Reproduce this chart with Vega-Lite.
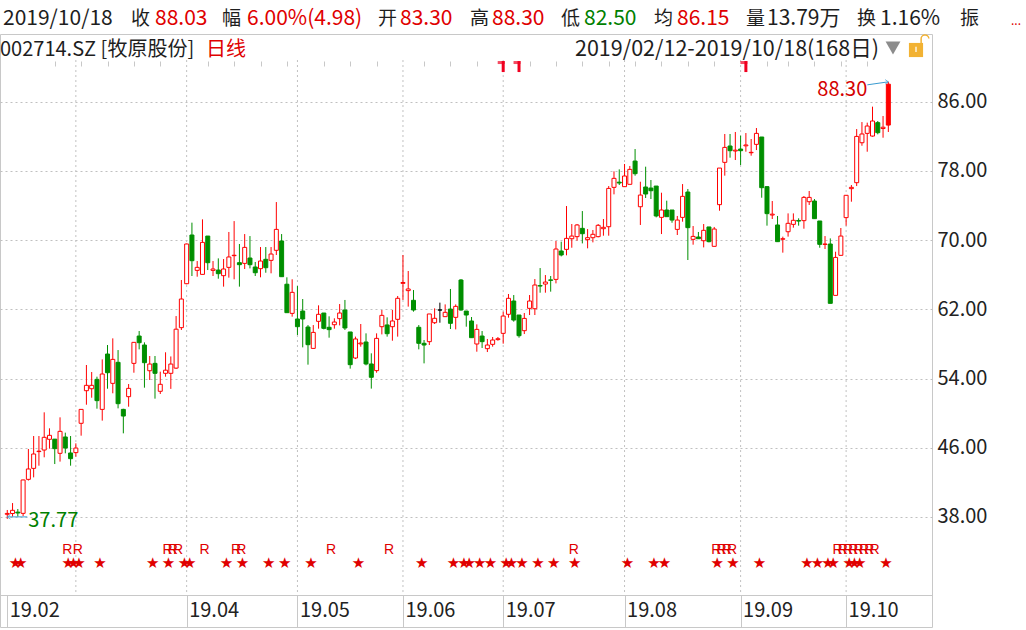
{
"$schema": "https://vega.github.io/schema/vega-lite/v6.json",
"width": 932, "height": 593,
"autosize": {"type": "none"},
"padding": {"left": 0, "top": 34, "right": 94, "bottom": 3},
"background": "#ffffff",
"config": {"view": {"stroke": "#c8c8c8", "strokeWidth": 1}, "font": "Noto Sans CJK SC", "axis": {"labelFont": "Noto Sans CJK SC"}},
"data": {"values": [{}]},
"datasets": {
"k": [
{"i":0,"o":38.3,"h":38.8,"l":37.77,"c":38.4},
{"i":1,"o":38.39,"h":39.6,"l":38.03,"c":38.76},
{"i":2,"o":38.55,"h":38.91,"l":38.03,"c":38.45},
{"i":3,"o":38.41,"h":42.3,"l":38.1,"c":42.27},
{"i":4,"o":42.34,"h":45.85,"l":42.2,"c":43.54},
{"i":5,"o":43.61,"h":47.35,"l":42.57,"c":45.27},
{"i":6,"o":45.55,"h":47.35,"l":43.92,"c":45.6},
{"i":7,"o":45.73,"h":50.09,"l":44.89,"c":47.2},
{"i":8,"o":46.97,"h":48.24,"l":45.89,"c":47.43},
{"i":9,"o":46.99,"h":47.0,"l":44.11,"c":45.89},
{"i":10,"o":45.35,"h":49.51,"l":44.39,"c":47.89},
{"i":11,"o":47.24,"h":47.74,"l":45.35,"c":45.96},
{"i":12,"o":45.39,"h":47.35,"l":43.92,"c":44.73},
{"i":13,"o":45.43,"h":46.5,"l":44.96,"c":45.96},
{"i":14,"o":48.82,"h":50.43,"l":47.39,"c":50.43},
{"i":15,"o":52.59,"h":55.56,"l":50.97,"c":53.21},
{"i":16,"o":52.82,"h":54.75,"l":51.78,"c":53.21},
{"i":17,"o":53.9,"h":54.21,"l":50.51,"c":51.44},
{"i":18,"o":50.43,"h":56.21,"l":49.13,"c":54.52},
{"i":19,"o":56.83,"h":57.87,"l":52.82,"c":54.67},
{"i":20,"o":53.44,"h":58.64,"l":52.29,"c":56.21},
{"i":21,"o":55.87,"h":57.29,"l":50.55,"c":51.09},
{"i":22,"o":50.43,"h":50.5,"l":47.66,"c":49.66},
{"i":23,"o":51.9,"h":53.36,"l":50.74,"c":52.86},
{"i":24,"o":55.75,"h":58.18,"l":54.67,"c":58.18},
{"i":25,"o":58.91,"h":59.49,"l":57.37,"c":58.14},
{"i":26,"o":57.87,"h":58.18,"l":52.94,"c":55.83},
{"i":27,"o":54.9,"h":56.6,"l":53.83,"c":55.67},
{"i":28,"o":55.75,"h":56.6,"l":51.67,"c":54.6},
{"i":29,"o":52.52,"h":54.79,"l":52.21,"c":53.33},
{"i":30,"o":54.6,"h":57.03,"l":54.21,"c":54.96},
{"i":31,"o":54.6,"h":56.55,"l":52.8,"c":55.67},
{"i":32,"o":55.2,"h":61.22,"l":55.1,"c":59.7},
{"i":33,"o":59.88,"h":65.39,"l":59.61,"c":63.19},
{"i":34,"o":64.96,"h":69.6,"l":64.9,"c":69.55},
{"i":35,"o":70.59,"h":72.02,"l":65.85,"c":67.62},
{"i":36,"o":66.5,"h":67.58,"l":65.77,"c":66.85},
{"i":37,"o":66.04,"h":72.4,"l":66.04,"c":69.74},
{"i":38,"o":70.47,"h":70.47,"l":66.54,"c":67.39},
{"i":39,"o":66.5,"h":67.58,"l":65.85,"c":66.66},
{"i":40,"o":66.54,"h":67.89,"l":65.54,"c":66.12},
{"i":41,"o":65.89,"h":67.81,"l":64.62,"c":66.66},
{"i":42,"o":66.85,"h":70.94,"l":65.66,"c":68.05},
{"i":43,"o":68.2,"h":72.2,"l":65.47,"c":68.25},
{"i":44,"o":67.39,"h":69.55,"l":64.62,"c":67.16},
{"i":45,"o":67.31,"h":70.7,"l":66.66,"c":69.16},
{"i":46,"o":67.93,"h":70.47,"l":66.73,"c":67.16},
{"i":47,"o":66.89,"h":67.47,"l":65.85,"c":66.23},
{"i":48,"o":66.7,"h":69.2,"l":65.7,"c":67.58},
{"i":49,"o":67.78,"h":69.2,"l":66.23,"c":66.81},
{"i":50,"o":67.66,"h":69.2,"l":66.16,"c":68.39},
{"i":51,"o":68.82,"h":74.4,"l":68.28,"c":71.24},
{"i":52,"o":69.9,"h":70.7,"l":65.77,"c":65.77},
{"i":53,"o":64.9,"h":65.7,"l":61.61,"c":61.61},
{"i":54,"o":61.53,"h":65.47,"l":61.15,"c":63.96},
{"i":55,"o":60.88,"h":64.69,"l":59.03,"c":59.99},
{"i":56,"o":61.8,"h":63.19,"l":57.6,"c":60.88},
{"i":57,"o":59.95,"h":60.18,"l":55.6,"c":57.91},
{"i":58,"o":57.48,"h":60.18,"l":57.48,"c":59.33},
{"i":59,"o":60.61,"h":62.46,"l":59.76,"c":61.42},
{"i":60,"o":61.57,"h":61.57,"l":59.68,"c":59.8},
{"i":61,"o":59.92,"h":61.19,"l":58.72,"c":59.65},
{"i":62,"o":60.22,"h":60.96,"l":59.76,"c":60.53},
{"i":63,"o":60.92,"h":62.61,"l":60.14,"c":61.57},
{"i":64,"o":61.92,"h":63.08,"l":59.61,"c":59.84},
{"i":65,"o":59.38,"h":59.38,"l":55.14,"c":55.6},
{"i":66,"o":56.37,"h":58.84,"l":56.25,"c":58.57},
{"i":67,"o":58.0,"h":60.3,"l":57.68,"c":58.1},
{"i":68,"o":58.22,"h":59.22,"l":55.52,"c":55.68},
{"i":69,"o":55.68,"h":56.91,"l":52.83,"c":54.14},
{"i":70,"o":54.91,"h":59.22,"l":54.67,"c":58.64},
{"i":71,"o":59.99,"h":61.92,"l":59.1,"c":61.3},
{"i":72,"o":60.19,"h":61.07,"l":58.84,"c":59.18},
{"i":73,"o":59.99,"h":61.92,"l":58.37,"c":60.65},
{"i":74,"o":60.84,"h":63.54,"l":58.84,"c":63.27},
{"i":75,"o":65.0,"h":68.28,"l":63.08,"c":65.1},
{"i":76,"o":64.16,"h":66.43,"l":62.31,"c":64.35},
{"i":77,"o":63.04,"h":64.23,"l":61.73,"c":61.92},
{"i":78,"o":59.92,"h":60.18,"l":57.37,"c":58.07},
{"i":79,"o":58.07,"h":58.45,"l":55.75,"c":57.87},
{"i":80,"o":58.26,"h":61.46,"l":57.87,"c":61.46},
{"i":81,"o":60.45,"h":62.11,"l":60.3,"c":60.96},
{"i":82,"o":61.92,"h":62.77,"l":60.45,"c":61.92},
{"i":83,"o":61.15,"h":62.57,"l":61.15,"c":61.65},
{"i":84,"o":62.03,"h":64.35,"l":59.72,"c":60.38},
{"i":85,"o":61.07,"h":62.57,"l":59.68,"c":62.34},
{"i":86,"o":65.39,"h":65.5,"l":61.84,"c":61.92},
{"i":87,"o":61.8,"h":61.8,"l":59.99,"c":61.34},
{"i":88,"o":60.65,"h":61.11,"l":58.72,"c":58.72},
{"i":89,"o":57.99,"h":60.26,"l":57.1,"c":59.68},
{"i":90,"o":58.91,"h":59.49,"l":57.53,"c":58.26},
{"i":91,"o":57.45,"h":58.57,"l":57.06,"c":57.87},
{"i":92,"o":57.95,"h":58.8,"l":57.68,"c":58.45},
{"i":93,"o":58.5,"h":58.8,"l":58.37,"c":58.6},
{"i":94,"o":59.22,"h":61.72,"l":58.03,"c":61.22},
{"i":95,"o":61.42,"h":63.77,"l":61.03,"c":63.27},
{"i":96,"o":62.96,"h":63.65,"l":60.57,"c":60.76},
{"i":97,"o":61.34,"h":61.34,"l":58.72,"c":58.95},
{"i":98,"o":59.53,"h":61.57,"l":59.14,"c":60.95},
{"i":99,"o":62.11,"h":63.65,"l":61.34,"c":62.96},
{"i":100,"o":62.07,"h":65.5,"l":61.34,"c":64.81},
{"i":101,"o":64.74,"h":66.77,"l":63.92,"c":64.69},
{"i":102,"o":64.92,"h":65.96,"l":63.92,"c":65.15},
{"i":103,"o":65.4,"h":65.85,"l":64.04,"c":65.35},
{"i":104,"o":65.46,"h":69.9,"l":65.0,"c":68.97},
{"i":105,"o":68.74,"h":69.82,"l":68.12,"c":68.28},
{"i":106,"o":68.93,"h":73.94,"l":68.24,"c":70.2},
{"i":107,"o":70.16,"h":71.86,"l":69.12,"c":70.47},
{"i":108,"o":70.4,"h":71.86,"l":69.93,"c":71.75},
{"i":109,"o":71.36,"h":73.36,"l":69.62,"c":70.74},
{"i":110,"o":70.05,"h":71.28,"l":69.05,"c":70.28},
{"i":111,"o":70.28,"h":71.17,"l":69.74,"c":70.67},
{"i":112,"o":70.4,"h":71.86,"l":70.32,"c":71.71},
{"i":113,"o":71.32,"h":72.44,"l":70.51,"c":71.48},
{"i":114,"o":71.55,"h":76.25,"l":70.51,"c":75.98},
{"i":115,"o":76.1,"h":77.95,"l":75.29,"c":77.14},
{"i":116,"o":76.7,"h":78.18,"l":76.37,"c":76.6},
{"i":117,"o":76.18,"h":78.8,"l":76.18,"c":77.41},
{"i":118,"o":76.45,"h":78.57,"l":76.45,"c":78.18},
{"i":119,"o":79.14,"h":80.53,"l":77.45,"c":77.68},
{"i":120,"o":73.86,"h":76.75,"l":71.75,"c":75.21},
{"i":121,"o":76.14,"h":78.49,"l":74.87,"c":75.33},
{"i":122,"o":76.02,"h":76.95,"l":74.75,"c":75.71},
{"i":123,"o":76.25,"h":76.25,"l":72.63,"c":72.79},
{"i":124,"o":72.63,"h":75.48,"l":70.7,"c":73.48},
{"i":125,"o":73.48,"h":74.56,"l":72.71,"c":72.71},
{"i":126,"o":73.48,"h":73.48,"l":72.01,"c":72.32},
{"i":127,"o":71.24,"h":72.79,"l":70.59,"c":72.32},
{"i":128,"o":72.63,"h":76.48,"l":72.13,"c":75.06},
{"i":129,"o":75.56,"h":75.91,"l":67.7,"c":71.44},
{"i":130,"o":70.09,"h":71.63,"l":69.47,"c":70.43},
{"i":131,"o":70.36,"h":70.94,"l":70.16,"c":70.16},
{"i":132,"o":69.93,"h":71.86,"l":69.16,"c":71.13},
{"i":133,"o":71.52,"h":71.52,"l":69.74,"c":69.82},
{"i":134,"o":69.28,"h":71.52,"l":69.28,"c":71.28},
{"i":135,"o":74.1,"h":78.33,"l":73.4,"c":78.33},
{"i":136,"o":78.99,"h":82.27,"l":77.45,"c":80.72},
{"i":137,"o":80.88,"h":82.27,"l":79.53,"c":80.34},
{"i":138,"o":80.3,"h":82.5,"l":79.26,"c":80.4},
{"i":139,"o":80.53,"h":82.07,"l":78.68,"c":80.34},
{"i":140,"o":80.9,"h":82.38,"l":80.22,"c":81.0},
{"i":141,"o":80.1,"h":81.69,"l":79.76,"c":80.15},
{"i":142,"o":81.07,"h":82.96,"l":80.41,"c":82.34},
{"i":143,"o":81.92,"h":81.92,"l":74.9,"c":76.06},
{"i":144,"o":76.18,"h":76.25,"l":71.67,"c":73.06},
{"i":145,"o":72.9,"h":74.52,"l":72.44,"c":73.0},
{"i":146,"o":71.75,"h":72.79,"l":69.82,"c":69.82},
{"i":147,"o":70.1,"h":70.4,"l":68.55,"c":70.16},
{"i":148,"o":70.97,"h":73.09,"l":70.4,"c":71.94},
{"i":149,"o":71.82,"h":73.09,"l":71.44,"c":72.29},
{"i":150,"o":72.27,"h":72.52,"l":71.67,"c":72.2},
{"i":151,"o":72.25,"h":75.1,"l":71.32,"c":74.94},
{"i":152,"o":74.44,"h":75.68,"l":74.06,"c":74.94},
{"i":153,"o":74.52,"h":74.75,"l":72.48,"c":72.48},
{"i":154,"o":72.21,"h":72.21,"l":69.12,"c":69.51},
{"i":155,"o":69.5,"h":70.47,"l":68.97,"c":69.55},
{"i":156,"o":69.55,"h":70.2,"l":62.69,"c":62.69},
{"i":157,"o":63.61,"h":68.66,"l":63.61,"c":68.0},
{"i":158,"o":68.24,"h":71.4,"l":68.24,"c":70.47},
{"i":159,"o":72.6,"h":75.18,"l":71.67,"c":75.18},
{"i":160,"o":75.95,"h":76.37,"l":74.44,"c":76.1},
{"i":161,"o":76.64,"h":82.84,"l":76.25,"c":81.99},
{"i":162,"o":81.26,"h":83.65,"l":80.91,"c":82.27},
{"i":163,"o":82.34,"h":83.58,"l":80.22,"c":83.19},
{"i":164,"o":82.03,"h":85.43,"l":81.96,"c":83.77},
{"i":165,"o":83.58,"h":83.77,"l":82.23,"c":82.42},
{"i":166,"o":82.9,"h":84.35,"l":81.84,"c":83.05},
{"i":167,"o":83.3,"h":88.3,"l":82.5,"c":88.03}
],
"grid": [{"i":13},{"i":34},{"i":55},{"i":75},{"i":94},{"i":117},{"i":139},{"i":159}],
"stars": [{"i":1},{"i":2},{"i":11},{"i":12},{"i":13},{"i":17},{"i":27},{"i":30},{"i":33},{"i":34},{"i":41},{"i":44},{"i":49},{"i":52},{"i":57},{"i":66},{"i":78},{"i":84},{"i":86},{"i":87},{"i":89},{"i":91},{"i":94},{"i":95},{"i":97},{"i":100},{"i":103},{"i":107},{"i":117},{"i":122},{"i":124},{"i":134},{"i":137},{"i":142},{"i":151},{"i":153},{"i":155},{"i":156},{"i":159},{"i":160},{"i":161},{"i":166}],
"rs": [{"i":11},{"i":13},{"i":30},{"i":31},{"i":32},{"i":37},{"i":43},{"i":44},{"i":61},{"i":72},{"i":107},{"i":134},{"i":135},{"i":136},{"i":137},{"i":157},{"i":158},{"i":159},{"i":160},{"i":161},{"i":162},{"i":163},{"i":164}],
"flags": [{"i":94},{"i":97},{"i":140}],
"hi": [{"i":167,"p":88.3,"t":"88.30"}],
"lo": [{"i":0,"p":37.77,"t":"37.77"}]
},
"layer": [
{"data": {"name": "grid"},
 "mark": {"type": "rule", "color": "#c0c0c0", "strokeDash": [2, 3], "strokeWidth": 1},
 "encoding": {
  "x": {"field": "i", "type": "quantitative", "scale": {"domain": [-0.431, 174.33], "nice": false, "zero": false},
   "axis": {"values": [0, 34, 55, 75, 94, 117, 139, 159], "tickSize": 32, "tickColor": "#c8c8c8", "domainColor": "#c8c8c8", "offset": -32, "grid": false, "title": null,
    "labelExpr": "datum.value == 0 ? '19.02' : datum.value == 34 ? '19.04' : datum.value == 55 ? '19.05' : datum.value == 75 ? '19.06' : datum.value == 94 ? '19.07' : datum.value == 117 ? '19.08' : datum.value == 139 ? '19.09' : '19.10'",
    "labelAlign": "left", "labelBaseline": "top", "labelOffset": 2, "labelPadding": -27, "labelFontSize": 20, "labelColor": "#222222", "labelFlush": false, "labelOverlap": false, "labelBound": false}},
  "y": {"datum": 90.82, "type": "quantitative", "scale": {"domain": [25.27, 93.83], "nice": false, "zero": false}, "axis": null},
  "y2": {"datum": 28.97}
 }},
{"data": {"name": "k"},
 "mark": {"type": "rule", "strokeWidth": 1},
 "encoding": {
  "x": {"field": "i", "type": "quantitative", "axis": null},
  "y": {"field": "l", "type": "quantitative",
   "axis": {"orient": "right", "values": [38, 46, 54, 62, 70, 78, 86], "format": ".2f", "grid": true, "gridDash": [2, 3], "gridColor": "#c0c0c0", "ticks": false, "domain": false, "labelPadding": 5, "labelFontSize": 20, "labelColor": "#222222", "title": null}},
  "y2": {"field": "h"},
  "color": {"condition": [{"test": "datum.c > datum.o", "value": "#ff0000"}, {"test": "datum.c < datum.o", "value": "#008f00"}], "value": "#000000"}
 }},
{"data": {"name": "k"},
 "mark": {"type": "bar", "width": 4, "strokeWidth": 1},
 "encoding": {
  "x": {"field": "i", "type": "quantitative", "axis": null},
  "y": {"field": "o", "type": "quantitative", "axis": null},
  "y2": {"field": "c"},
  "fill": {"condition": [{"test": "datum.i == 167", "value": "#ff0000"}, {"test": "datum.c > datum.o", "value": "#ffffff"}, {"test": "datum.c < datum.o", "value": "#008f00"}], "value": "#000000"},
  "stroke": {"condition": [{"test": "datum.c > datum.o", "value": "#ff0000"}, {"test": "datum.c < datum.o", "value": "#008f00"}], "value": "#000000"}
 }},
{"data": {"name": "stars"},
 "mark": {"type": "text", "text": "★", "color": "#e00000", "fontSize": 15, "font": "DejaVu Sans", "dx": 3, "baseline": "middle"},
 "encoding": {
  "x": {"field": "i", "type": "quantitative",
   "axis": {"values": [9, 14, 19, 24, 29, 38, 43, 48, 53, 60, 65, 70, 79, 84, 89, 99, 104, 109, 114, 119, 124, 129, 134, 144, 148, 153, 158, 163], "tickSize": 5, "tickColor": "#c8c8c8", "labels": false, "domain": false, "offset": -32, "grid": false, "title": null}},
  "y": {"datum": 32.67, "type": "quantitative", "axis": null}
 }},
{"data": {"name": "rs"},
 "mark": {"type": "text", "text": "R", "color": "#e00000", "fontSize": 14, "font": "Liberation Sans", "dx": 2, "baseline": "middle"},
 "encoding": {
  "x": {"field": "i", "type": "quantitative", "axis": null},
  "y": {"datum": 34.17, "type": "quantitative", "axis": null}
 }},
{"data": {"name": "flags"},
 "mark": {"type": "rule", "color": "#f00020", "strokeWidth": 3},
 "encoding": {
  "x": {"field": "i", "type": "quantitative", "axis": null},
  "y": {"datum": 90.7, "type": "quantitative", "axis": null},
  "y2": {"datum": 89.43}
 }},
{"data": {"name": "flags"},
 "mark": {"type": "tick", "orient": "horizontal", "color": "#f00020", "size": 7, "thickness": 3, "xOffset": -2},
 "encoding": {
  "x": {"field": "i", "type": "quantitative", "axis": null},
  "y": {"datum": 90.53, "type": "quantitative", "axis": null}
 }},
{"data": {"name": "hi"},
 "mark": {"type": "rule", "color": "#3a9bd0", "strokeWidth": 1, "xOffset": -21, "yOffset": 3},
 "encoding": {
  "x": {"field": "i", "type": "quantitative", "axis": null},
  "x2": {"field": "i"},
  "y": {"field": "p", "type": "quantitative", "axis": null},
  "y2": {"field": "p"}
 }},
{"data": {"name": "hi"},
 "mark": {"type": "point", "shape": "M-1,-0.7L0,0L-1,0.7", "filled": false, "color": "#3a9bd0", "size": 40, "strokeWidth": 1},
 "encoding": {
  "x": {"field": "i", "type": "quantitative", "axis": null},
  "y": {"field": "p", "type": "quantitative", "axis": null}
 }},
{"data": {"name": "hi"},
 "mark": {"type": "text", "color": "#d40000", "fontSize": 20, "align": "right", "baseline": "middle", "dx": -21, "dy": 8},
 "encoding": {
  "x": {"field": "i", "type": "quantitative", "axis": null},
  "y": {"field": "p", "type": "quantitative", "axis": null},
  "text": {"field": "t"}
 }},
{"data": {"name": "lo"},
 "mark": {"type": "rule", "color": "#3a9bd0", "strokeWidth": 1, "x2Offset": 20, "yOffset": -2, "y2Offset": -2},
 "encoding": {
  "x": {"field": "i", "type": "quantitative", "axis": null},
  "x2": {"field": "i"},
  "y": {"field": "p", "type": "quantitative", "axis": null},
  "y2": {"field": "p"}
 }},
{"data": {"name": "lo"},
 "mark": {"type": "point", "shape": "M1,-0.7L0,0L1,0.7", "filled": false, "color": "#3a9bd0", "size": 40, "strokeWidth": 1, "yOffset": -2},
 "encoding": {
  "x": {"field": "i", "type": "quantitative", "axis": null},
  "y": {"field": "p", "type": "quantitative", "axis": null}
 }},
{"data": {"name": "lo"},
 "mark": {"type": "text", "color": "#008000", "fontSize": 20, "align": "left", "baseline": "middle", "dx": 21, "dy": 2},
 "encoding": {
  "x": {"field": "i", "type": "quantitative", "axis": null},
  "y": {"field": "p", "type": "quantitative", "axis": null},
  "text": {"field": "t"}
 }},
{"mark": {"type": "rule", "x": 0, "x2": 1026, "y": 0, "y2": 0, "color": "#c8c8c8", "strokeWidth": 1}, "encoding": {}},
{"mark": {"type": "text", "text": "2019/10/18", "x": 3, "y": -9, "align": "left", "baseline": "alphabetic", "fontSize": 21, "color": "#1e1e1e"}},
{"mark": {"type": "text", "text": "收", "x": 131, "y": -9, "align": "left", "baseline": "alphabetic", "fontSize": 19, "color": "#1e1e1e"}},
{"mark": {"type": "text", "text": "88.03", "x": 155, "y": -9, "align": "left", "baseline": "alphabetic", "fontSize": 21, "color": "#e00000"}},
{"mark": {"type": "text", "text": "幅", "x": 222, "y": -9, "align": "left", "baseline": "alphabetic", "fontSize": 19, "color": "#1e1e1e"}},
{"mark": {"type": "text", "text": "6.00%(4.98)", "x": 247, "y": -9, "align": "left", "baseline": "alphabetic", "fontSize": 21, "color": "#e00000"}},
{"mark": {"type": "text", "text": "开", "x": 378, "y": -9, "align": "left", "baseline": "alphabetic", "fontSize": 19, "color": "#1e1e1e"}},
{"mark": {"type": "text", "text": "83.30", "x": 400, "y": -9, "align": "left", "baseline": "alphabetic", "fontSize": 21, "color": "#e00000"}},
{"mark": {"type": "text", "text": "高", "x": 470, "y": -9, "align": "left", "baseline": "alphabetic", "fontSize": 19, "color": "#1e1e1e"}},
{"mark": {"type": "text", "text": "88.30", "x": 492, "y": -9, "align": "left", "baseline": "alphabetic", "fontSize": 21, "color": "#e00000"}},
{"mark": {"type": "text", "text": "低", "x": 561, "y": -9, "align": "left", "baseline": "alphabetic", "fontSize": 19, "color": "#1e1e1e"}},
{"mark": {"type": "text", "text": "82.50", "x": 584, "y": -9, "align": "left", "baseline": "alphabetic", "fontSize": 21, "color": "#008000"}},
{"mark": {"type": "text", "text": "均", "x": 654, "y": -9, "align": "left", "baseline": "alphabetic", "fontSize": 19, "color": "#1e1e1e"}},
{"mark": {"type": "text", "text": "86.15", "x": 677, "y": -9, "align": "left", "baseline": "alphabetic", "fontSize": 21, "color": "#e00000"}},
{"mark": {"type": "text", "text": "量", "x": 746, "y": -9, "align": "left", "baseline": "alphabetic", "fontSize": 19, "color": "#1e1e1e"}},
{"mark": {"type": "text", "text": "13.79万", "x": 767, "y": -9, "align": "left", "baseline": "alphabetic", "fontSize": 21, "color": "#1e1e1e"}},
{"mark": {"type": "text", "text": "换", "x": 857, "y": -9, "align": "left", "baseline": "alphabetic", "fontSize": 19, "color": "#1e1e1e"}},
{"mark": {"type": "text", "text": "1.16%", "x": 880, "y": -9, "align": "left", "baseline": "alphabetic", "fontSize": 21, "color": "#1e1e1e"}},
{"mark": {"type": "text", "text": "振", "x": 960, "y": -9, "align": "left", "baseline": "alphabetic", "fontSize": 19, "color": "#1e1e1e"}},
{"mark": {"type": "text", "text": "...", "x": 1011, "y": -9, "align": "left", "baseline": "alphabetic", "fontSize": 12, "color": "#e00000"}},
{"mark": {"type": "text", "text": "002714.SZ [牧原股份]", "x": 0, "y": 22, "align": "left", "baseline": "alphabetic", "fontSize": 20, "color": "#1e1e1e"}},
{"mark": {"type": "text", "text": "日线", "x": 206, "y": 22, "align": "left", "baseline": "alphabetic", "fontSize": 20, "color": "#e00000"}},
{"mark": {"type": "text", "text": "2019/02/12-2019/10/18(168日)", "x": 575, "y": 22, "align": "left", "baseline": "alphabetic", "fontSize": 21.5, "color": "#1e1e1e"}},
{"mark": {"type": "rule", "x": 575, "x2": 880, "y": 26, "y2": 26, "color": "#1e1e1e", "strokeWidth": 1}, "encoding": {}},
{"mark": {"type": "point", "shape": "triangle-down", "x": 893, "y": 14, "size": 220, "filled": true, "color": "#8c8c8c", "opacity": 1}},
{"mark": {"type": "point", "shape": "square", "x": 916, "y": 16, "size": 200, "filled": true, "color": "#f2b233", "opacity": 1}},
{"mark": {"type": "point", "shape": "M-0.2,-1L0.2,-1L0.2,0.6L-0.2,0.6Z", "x": 916, "y": 16, "size": 40, "filled": true, "color": "#ffffff", "opacity": 1}},
{"mark": {"type": "point", "shape": "M-1,1L-1,-0.2A1,1 0 0 1 1,-0.4", "x": 925, "y": 6, "size": 60, "filled": false, "color": "#f2b233", "strokeWidth": 1.5, "opacity": 1}}
],
"resolve": {"axis": {"x": "independent", "y": "independent"}}
}
